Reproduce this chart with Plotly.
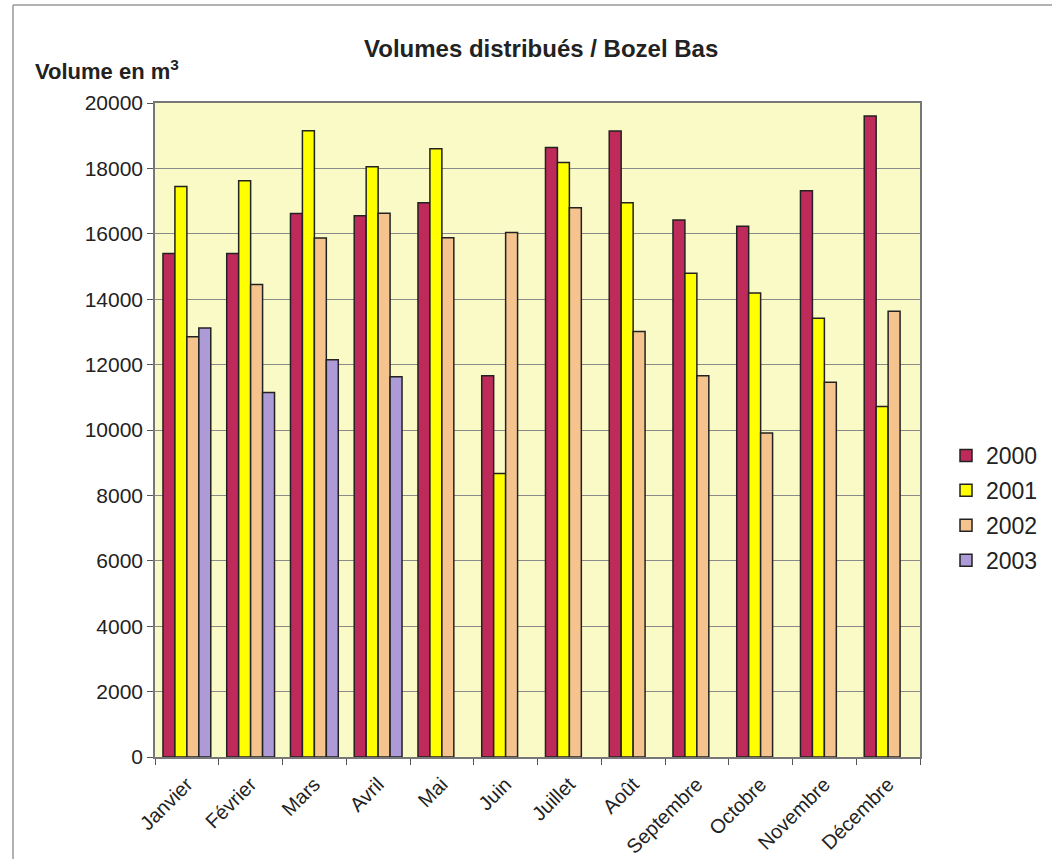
import plotly.graph_objects as go

months = ["Janvier", "Février", "Mars", "Avril", "Mai", "Juin", "Juillet",
          "Août", "Septembre", "Octobre", "Novembre", "Décembre"]
v2000 = [15400, 15400, 16620, 16550, 16950, 11660, 18640, 19140, 16420, 16230, 17320, 19600]
v2001 = [17450, 17620, 19150, 18050, 18600, 8670, 18180, 16950, 14790, 14190, 13420, 10720]
v2002 = [12850, 14450, 15870, 16630, 15880, 16040, 16800, 13010, 11660, 9910, 11460, 13630]
v2003 = [13120, 11150, 12150, 11630, None, None, None, None, None, None, None, None]
series_names = ["2000", "2001", "2002", "2003"]
colors = ["#BE2B5A", "#FFFF00", "#F5C48E", "#AC9BD6"]

W, H = 1052, 859
L, R, T, B = 155, 920, 103, 757

fig = go.Figure()
for name, vals, col in zip(series_names, [v2000, v2001, v2002, v2003], colors):
    fig.add_trace(go.Bar(x=months, y=vals, name=name, legendgroup=name,
                         marker=dict(color=col, line=dict(color="#222222", width=1.5))))

font = "Liberation Sans, Arial, sans-serif"
fig.update_layout(
    width=W, height=H,
    margin=dict(l=L, r=W - R, t=T, b=H - B, autoexpand=False),
    paper_bgcolor="white", plot_bgcolor="#FAFAC6",
    barmode="group", bargap=0.25, bargroupgap=0,
    font=dict(family=font, color="#222222"),
    showlegend=True,
    legend=dict(x=(946 - L) / (R - L), xanchor="left", y=(757 - 508) / (B - T), yanchor="middle",
                font=dict(size=23, color="#222222"), bgcolor="rgba(0,0,0,0)",
                tracegroupgap=2, itemwidth=30),
    xaxis=dict(tickangle=-45, tickson="boundaries", ticks="outside", ticklen=6,
               tickcolor="#555", showline=True, linecolor="#777", linewidth=1.5,
               mirror=True, tickfont=dict(size=20, color="#222222"), showgrid=False,
               ticklabelstandoff=6),
    yaxis=dict(range=[0, 20000], dtick=2000, tickformat="d", ticks="outside", ticklen=6,
               tickcolor="#555", showline=True, linecolor="#777", linewidth=1.5, mirror=True,
               showgrid=True, gridcolor="#8A8A8A", gridwidth=1,
               tickfont=dict(size=21, color="#222222"), zeroline=False),
)

def px_x(px):
    return (px - L) / (R - L)

def px_y(py):
    return (B - py) / (B - T)

fig.add_annotation(text="<b>Volumes distribués / Bozel Bas</b>", xref="paper", yref="paper",
                   x=px_x(541), y=px_y(48), showarrow=False, font=dict(size=24, color="#222222"),
                   xanchor="center", yanchor="middle")
fig.add_annotation(text="<b>Volume en m<sup>3</sup></b>", xref="paper", yref="paper",
                   x=px_x(33), y=px_y(70), showarrow=False, font=dict(size=22, color="#222222"),
                   xanchor="left", yanchor="middle")

# outer chart frame (top and left)
fig.add_shape(type="line", xref="paper", yref="paper", x0=px_x(13), x1=px_x(1052),
              y0=px_y(5), y1=px_y(5), line=dict(color="#999999", width=1.5))
fig.add_shape(type="line", xref="paper", yref="paper", x0=px_x(13), x1=px_x(13),
              y0=px_y(5), y1=px_y(859), line=dict(color="#999999", width=1.5))

fig.write_html("out.html", config={"displayModeBar": False},
               post_script="document.body.style.margin='0';")
